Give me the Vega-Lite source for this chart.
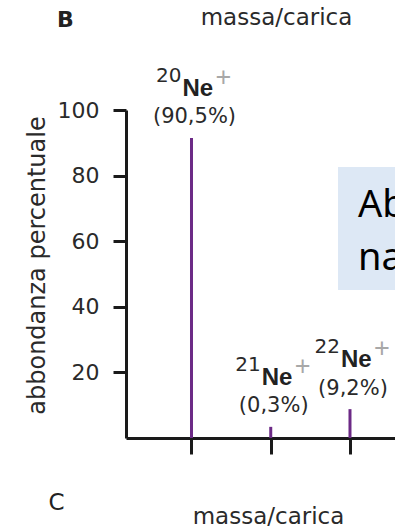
{
  "$schema": "https://vega.github.io/schema/vega-lite/v6.json",
  "width": 269,
  "height": 328,
  "autosize": {"type": "none"},
  "padding": {"left": 126, "top": 110, "right": 0, "bottom": 90},
  "background": "white",
  "config": {"view": {"stroke": null}, "font": "DejaVu Sans"},
  "data": {"values": [
    {"massa": 20, "abbondanza": 91.5, "etichetta": "(90,5%)"},
    {"massa": 21, "abbondanza": 3.4, "etichetta": "(0,3%)"},
    {"massa": 22, "abbondanza": 8.8, "etichetta": "(9,2%)"}
  ]},
  "layer": [
    {
      "data": {"values": [{}]},
      "mark": {"type": "rect", "color": "#dde8f5"},
      "encoding": {
        "x": {"datum": 21.849, "type": "quantitative"},
        "x2": {"datum": 23.5},
        "y": {"datum": 82.6, "type": "quantitative"},
        "y2": {"datum": 45.1}
      }
    },
    {
      "data": {"values": [{}]},
      "mark": {"type": "text", "text": "Abbondanza\nnaturale", "lineBreak": "\n", "lineHeight": 53, "align": "left", "baseline": "alphabetic", "font": "Noto Sans", "fontSize": 38, "color": "#000000"},
      "encoding": {
        "x": {"datum": 22.101, "type": "quantitative"},
        "y": {"datum": 67.4, "type": "quantitative"}
      }
    },
    {
      "mark": {"type": "rule", "color": "#6c2a86", "strokeWidth": 3},
      "encoding": {
        "x": {"field": "massa", "type": "quantitative",
          "scale": {"domain": [19.1735, 22.568], "nice": false, "zero": false},
          "axis": {"values": [20, 21, 22], "labels": false, "grid": false, "tickSize": 16, "tickWidth": 3, "tickColor": "#1a1a1a", "domainColor": "#1a1a1a", "domainWidth": 3,
            "title": "massa/carica", "titleFontSize": 23, "titleFontWeight": "normal", "titleColor": "#2a2a2a", "titleX": 142, "titleY": 85, "titleAlign": "center", "titleBaseline": "alphabetic"}},
        "y": {"field": "abbondanza", "type": "quantitative",
          "scale": {"domain": [0, 100], "nice": false},
          "axis": {"values": [20, 40, 60, 80, 100], "grid": false, "tickSize": 13, "tickWidth": 3, "tickColor": "#1a1a1a", "domainColor": "#1a1a1a", "domainWidth": 3,
            "labelFontSize": 22, "labelColor": "#2a2a2a", "labelPadding": 14,
            "title": "abbondanza percentuale", "titleFontSize": 24, "titleFontWeight": "normal", "titleColor": "#2a2a2a", "titleX": -89, "titleY": 155, "titleAngle": -90, "titleAlign": "center", "titleBaseline": "middle"}},
        "y2": {"datum": 0}
      }
    },
    {
      "mark": {"type": "text", "align": "right", "baseline": "alphabetic", "dx": -10, "dy": -56, "fontSize": 20, "color": "#2a2a2a"},
      "encoding": {
        "x": {"field": "massa", "type": "quantitative"},
        "y": {"field": "abbondanza", "type": "quantitative"},
        "text": {"field": "massa", "type": "quantitative", "format": "d"}
      }
    },
    {
      "mark": {"type": "text", "text": "Ne", "align": "left", "baseline": "alphabetic", "dx": -9, "dy": -42, "font": "Liberation Sans", "fontWeight": "bold", "fontSize": 24, "color": "#222222"},
      "encoding": {
        "x": {"field": "massa", "type": "quantitative"},
        "y": {"field": "abbondanza", "type": "quantitative"}
      }
    },
    {
      "mark": {"type": "text", "text": "+", "align": "center", "baseline": "middle", "dx": 32, "dy": -60, "font": "Liberation Sans", "fontSize": 27, "color": "#a8a8a8"},
      "encoding": {
        "x": {"field": "massa", "type": "quantitative"},
        "y": {"field": "abbondanza", "type": "quantitative"}
      }
    },
    {
      "mark": {"type": "text", "align": "center", "baseline": "middle", "dx": 3, "dy": -20.5, "fontSize": 21, "color": "#2a2a2a"},
      "encoding": {
        "x": {"field": "massa", "type": "quantitative"},
        "y": {"field": "abbondanza", "type": "quantitative"},
        "text": {"field": "etichetta", "type": "nominal"}
      }
    },
    {
      "data": {"values": [{}]},
      "mark": {"type": "text", "text": "B", "align": "center", "baseline": "alphabetic", "fontSize": 22, "fontWeight": "bold", "color": "#222222"},
      "encoding": {
        "x": {"datum": 18.41, "type": "quantitative"},
        "y": {"datum": 125.3, "type": "quantitative"}
      }
    },
    {
      "data": {"values": [{}]},
      "mark": {"type": "text", "text": "massa/carica", "align": "center", "baseline": "alphabetic", "fontSize": 23, "color": "#2a2a2a"},
      "encoding": {
        "x": {"datum": 21.073, "type": "quantitative"},
        "y": {"datum": 125.9, "type": "quantitative"}
      }
    },
    {
      "data": {"values": [{}]},
      "mark": {"type": "text", "text": "C", "align": "center", "baseline": "alphabetic", "fontSize": 23, "color": "#222222"},
      "encoding": {
        "x": {"datum": 18.296, "type": "quantitative"},
        "y": {"datum": -21.95, "type": "quantitative"}
      }
    }
  ]
}
